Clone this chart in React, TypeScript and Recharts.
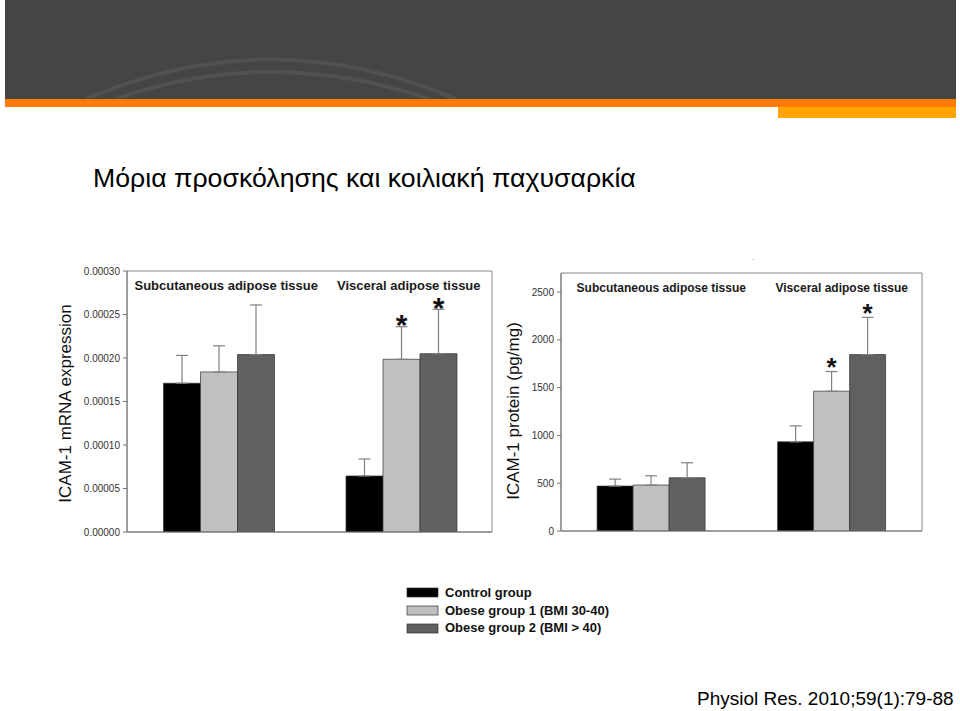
import React from "react";
import { BarChart, Bar, XAxis, YAxis, ErrorBar, LabelList, Label, ReferenceArea } from "recharts";

const tissues = ["Subcutaneous adipose tissue", "Visceral adipose tissue"];
const groupNames = ["Control group", "Obese group 1 (BMI 30-40)", "Obese group 2 (BMI > 40)"];
const groupColors = ["#000000", "#c0c0c0", "#606060"];

// ICAM-1 mRNA expression (left panel)
const mrnaControl = [0.000171, 0.0000644];
const mrnaControlErr = [0.000032, 0.0000195];
const mrnaObese1 = [0.000184, 0.0001985];
const mrnaObese1Err = [0.00003, 0.0000375];
const mrnaObese2 = [0.000204, 0.000205];
const mrnaObese2Err = [0.000057, 0.000051];
const mrnaTicks = [0, 0.00005, 0.0001, 0.00015, 0.0002, 0.00025, 0.0003];

// ICAM-1 protein pg/mg (right panel)
const proteinControl = [470, 933];
const proteinControlErr = [73, 167];
const proteinObese1 = [481, 1463];
const proteinObese1Err = [97, 206];
const proteinObese2 = [557, 1846];
const proteinObese2Err = [157, 390];
const proteinTicks = [0, 500, 1000, 1500, 2000, 2500];
const proteinMax = 2700;

const obese1Sig = ["", "*"];
const obese2Sig = ["", "*"];

const FONT = '"Liberation Sans", Arial, sans-serif';

const makeRows = (c: number[], cE: number[], o1: number[], o1E: number[], o2: number[], o2E: number[]) =>
  tissues.map((t, i) => ({
    tissue: t,
    c: c[i], cErr: [0, cE[i]],
    o1: o1[i], o1Err: [0, o1E[i]], o1Sig: obese1Sig[i],
    o2: o2[i], o2Err: [0, o2E[i]], o2Sig: obese2Sig[i],
  }));

const mrnaRows = makeRows(mrnaControl, mrnaControlErr, mrnaObese1, mrnaObese1Err, mrnaObese2, mrnaObese2Err);
const proteinRows = makeRows(proteinControl, proteinControlErr, proteinObese1, proteinObese1Err, proteinObese2, proteinObese2Err);

// asterisk drawn just above the error bar cap; bar height / value gives px per unit
const starContent = (rows: any[], valueKey: string, errKey: string, size: number, gap: number) => (props: any) => {
  const { index, value } = props;
  if (!value) return null;
  const vb = props.viewBox ?? props;
  const row = rows[index];
  if (!row) return null;
  const top = vb.y - (row[errKey][1] * vb.height) / row[valueKey];
  return (
    <text x={vb.x + vb.width / 2} y={top - gap + size * 0.41} textAnchor="middle"
      fontSize={size} fontWeight="bold" fontFamily={FONT} fill="#111">{value}</text>
  );
};

function Panel(p: {
  rows: any[]; width: number; height: number; margin: any; yWidth: number;
  domain: [number, number]; ticks: number[]; fmt: (v: number) => string; yTitle: string;
  titleOffset: number; titleShift: number; labelSize: number; labelDx: number; starSize: number; starGap: number;
}) {
  const keys = [["c", "cErr", ""], ["o1", "o1Err", "o1Sig"], ["o2", "o2Err", "o2Sig"]];
  const plotH = p.height - p.margin.top - p.margin.bottom - 1;
  return (
    <BarChart width={p.width} height={p.height} data={p.rows} margin={p.margin} barCategoryGap="20%" barGap={0}>
      <XAxis dataKey="tissue" height={1} tickLine={false} tickSize={0} tickMargin={0} interval={0}
        axisLine={{ stroke: "#777" }}
        tick={(t: any) => (
          <text x={t.x + p.labelDx} y={t.y - plotH + 19} textAnchor="middle" fontSize={p.labelSize}
            fontWeight="bold" fontFamily={FONT} fill="#1a1a1a">{t.payload.value}</text>
        )} />
      <YAxis width={p.yWidth} domain={p.domain} ticks={p.ticks} allowDataOverflow interval={0}
        tickFormatter={p.fmt} tickSize={4} tickMargin={3}
        tick={{ fontSize: 10, fill: "#333", fontFamily: FONT }}
        tickLine={{ stroke: "#777" }} axisLine={{ stroke: "#777" }}>
        <Label content={(lp: any) => {
          const vb = lp.viewBox;
          const cx = vb.x - p.titleOffset;
          const cy = vb.y + vb.height / 2 + p.titleShift;
          return (
            <text x={cx} y={cy} transform={`rotate(-90, ${cx}, ${cy})`} textAnchor="middle"
              dominantBaseline="central" fontSize={17} fontFamily={FONT} fill="#111">{p.yTitle}</text>
          );
        }} />
      </YAxis>
      <ReferenceArea y1={p.domain[0]} y2={p.domain[1]} fill="none" stroke="#888" strokeWidth={1} />
      {keys.map(([k, e, s], i) => (
        <Bar key={k} dataKey={k} name={groupNames[i]} fill={groupColors[i]} stroke="#333" strokeWidth={0.7}
          isAnimationActive={false}>
          <ErrorBar dataKey={e} width={6} stroke="#808080" strokeWidth={1.2} direction="y" />
          {s ? <LabelList dataKey={s} content={starContent(p.rows, k, e, p.starSize, p.starGap)} /> : null}
        </Bar>
      ))}
    </BarChart>
  );
}

export default function App() {
  return (
    <div style={{ position: "absolute", left: 0, top: 0, width: 960, height: 711, background: "#fff", overflow: "hidden", fontFamily: FONT }}>
      <svg width={960} height={711} style={{ position: "absolute", left: 0, top: 0 }}>
        <rect x={5} y={0} width={951} height={99} fill="#454545" />
        <path d="M 86 99 Q 270 20 456 99" fill="none" stroke="#515151" strokeWidth={4} />
        <path d="M 116 99 Q 270 45 429 99" fill="none" stroke="#515151" strokeWidth={4} />
        <rect x={5} y={99} width={951} height={8} fill="#ff7c00" />
        <rect x={778} y={107} width={178} height={11} fill="#ffa400" />
        <text x={93} y={187} fontSize={26.7} fontFamily={FONT} fill="#000">
          Μόρια προσκόλησης και κοιλιακή παχυσαρκία
        </text>
        <text x={752} y={260} fontSize={8} fill="#555">.</text>
        {groupNames.map((g, i) => (
          <g key={g}>
            <rect x={407} y={588 + i * 18} width={31} height={9} fill={groupColors[i]} stroke="#333" strokeWidth={0.7} />
            <text x={445} y={597 + i * 17.5} fontSize={13} fontWeight="bold" fontFamily={FONT} fill="#111">{g}</text>
          </g>
        ))}
        <text x={697} y={705} fontSize={19} fontFamily={FONT} fill="#000">Physiol Res. 2010;59(1):79-88</text>
      </svg>
      <div style={{ position: "absolute", left: 50, top: 255 }}>
        <Panel rows={mrnaRows} width={460} height={295} margin={{ top: 16, right: 18, bottom: 17, left: 27 }}
          yWidth={50} domain={[0, 0.0003]} ticks={mrnaTicks} fmt={(v) => v.toFixed(5)}
          yTitle="ICAM-1 mRNA expression" titleOffset={12} titleShift={2} labelSize={13} labelDx={8}
          starSize={30} starGap={4} />
      </div>
      <div style={{ position: "absolute", left: 500, top: 245 }}>
        <Panel rows={proteinRows} width={440} height={300} margin={{ top: 28, right: 18, bottom: 13, left: 21 }}
          yWidth={40} domain={[0, proteinMax]} ticks={proteinTicks} fmt={(v) => String(v)}
          yTitle="ICAM-1 protein (pg/mg)" titleOffset={8} titleShift={9} labelSize={12} labelDx={10}
          starSize={26} starGap={6} />
      </div>
    </div>
  );
}
